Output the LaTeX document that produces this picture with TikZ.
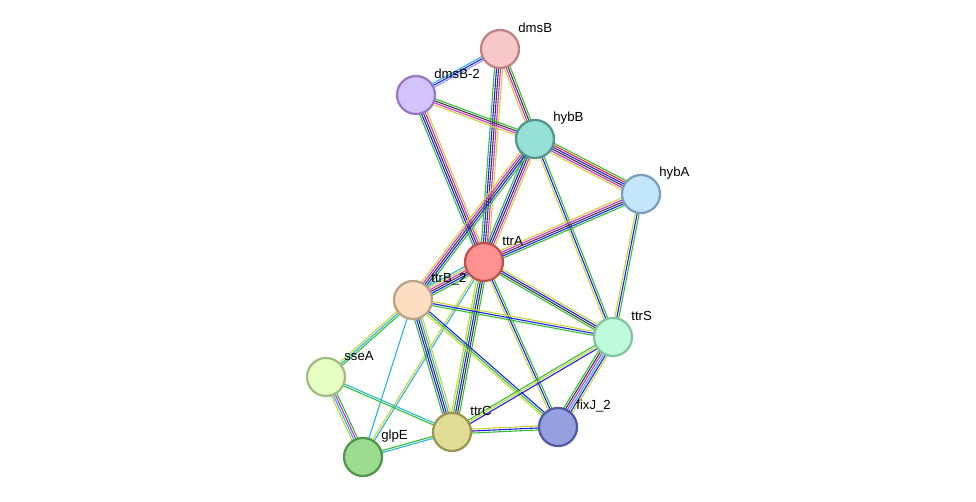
\documentclass[tikz,border=0pt]{standalone}
\usepackage{fontspec}
\setmainfont{Liberation Sans}
\usetikzlibrary{calc,backgrounds}

\definecolor{ey}{RGB}{200,212,50}
\definecolor{eg}{RGB}{50,190,50}
\definecolor{eb}{RGB}{30,30,240}
\definecolor{ek}{RGB}{60,60,60}
\definecolor{em}{RGB}{220,40,220}
\definecolor{ec}{RGB}{40,180,220}
\definecolor{er}{RGB}{240,30,30}
\definecolor{el}{RGB}{150,150,255}

% protein fills and rims
\definecolor{dmsBf}{RGB}{248,200,200}   \definecolor{dmsBd}{RGB}{190,130,130}
\definecolor{dmsBIIf}{RGB}{210,195,250} \definecolor{dmsBIId}{RGB}{150,120,200}
\definecolor{hybBf}{RGB}{150,225,215}   \definecolor{hybBd}{RGB}{80,150,140}
\definecolor{hybAf}{RGB}{195,230,250}   \definecolor{hybAd}{RGB}{120,160,190}
\definecolor{ttrAf}{RGB}{255,145,145}   \definecolor{ttrAd}{RGB}{190,80,80}
\definecolor{ttrBf}{RGB}{253,222,195}   \definecolor{ttrBd}{RGB}{190,160,130}
\definecolor{ttrSf}{RGB}{190,250,220}   \definecolor{ttrSd}{RGB}{130,195,160}
\definecolor{sseAf}{RGB}{230,255,195}   \definecolor{sseAd}{RGB}{160,190,130}
\definecolor{ttrCf}{RGB}{225,220,150}   \definecolor{ttrCd}{RGB}{155,150,80}
\definecolor{fixJf}{RGB}{150,160,225}   \definecolor{fixJd}{RGB}{80,90,160}
\definecolor{glpEf}{RGB}{155,220,145}   \definecolor{glpEd}{RGB}{80,150,70}

\tikzset{
  prot/.style={circle, minimum size=0.76cm, inner sep=0pt, line width=0.045cm, fill=#1f, draw=#1d},
  lbl/.style={anchor=west, inner sep=0pt, font=\fontsize{7.5}{8}\selectfont}
}

% multi-coloured link between two proteins
\newcommand\link[3]{%
  \gdef\nlines{0}%
  \foreach \c in {#3}{\xdef\nlines{\the\numexpr\nlines+1\relax}}%
  \foreach \c [count=\i] in {#3}{%
    \draw [\c, line width=0.022cm] let \p1=($(#2)-(#1)$), \n1={atan2(\y1,\x1)+90},
      \n2={(\i-(\nlines+1)/2)*0.04} in
      ($(#1)+(\n1:\n2 cm)$) -- ($(#2)+(\n1:\n2 cm)$);
  }}

\begin{document}
\begin{tikzpicture}[x=0.02cm, y=-0.02cm]
\useasboundingbox (0,0) rectangle (976,502);

% Proteins
\node [prot=dmsB] (dmsB) at (500,49) {};
\node [prot=dmsBII] (dmsB2) at (416,95) {};
\node [prot=hybB] (hybB) at (535,139) {};
\node [prot=hybA] (hybA) at (641,194) {};
\node [prot=ttrA] (ttrA) at (484,262) {};
\node [prot=ttrB] (ttrB2) at (413,300) {};
\node [prot=ttrS] (ttrS) at (613,337) {};
\node [prot=sseA] (sseA) at (326,377) {};
\node [prot=ttrC] (ttrC) at (452,432) {};
\node [prot=fixJ] (fixJ) at (558,427) {};
\node [prot=glpE] (glpE) at (363,457) {};

% Labels
\node [lbl] (dmsBl) at ($(dmsB)+(18,-21)$) {dmsB};
\node [lbl] (dmsB2l) at ($(dmsB2)+(18,-21)$) {dmsB-2};
\node [lbl] (hybBl) at ($(hybB)+(18,-21)$) {hybB};
\node [lbl] (hybAl) at ($(hybA)+(18,-21)$) {hybA};
\node [lbl] (ttrAl) at ($(ttrA)+(18,-21)$) {ttrA};
\node [lbl] (ttrB2l) at ($(ttrB2)+(18,-21)$) {ttrB\_2};
\node [lbl] (ttrSl) at ($(ttrS)+(18,-21)$) {ttrS};
\node [lbl] (sseAl) at ($(sseA)+(18,-21)$) {sseA};
\node [lbl] (ttrCl) at ($(ttrC)+(18,-21)$) {ttrC};
\node [lbl] (fixJl) at ($(fixJ)+(18,-21)$) {fixJ\_2};
\node [lbl] (glpEl) at ($(glpE)+(18,-21)$) {glpE};

% Links
\begin{scope}[on background layer]
\link{dmsB}{dmsB2}{ec,eb,el}
\link{dmsB}{hybB}{ey,em,ek,eg}
\link{dmsB}{ttrA}{eg,eb,ek,em,ey}
\link{dmsB2}{hybB}{ey,em,ek,eg}
\link{dmsB2}{ttrA}{eg,eb,ek,em,ey}
\link{hybB}{hybA}{ey,em,ek,eb,er,eg}
\link{hybB}{ttrA}{eg,eb,ek,em,ey}
\link{hybB}{ttrB2}{ey,em,ek,eb,eg}
\link{hybB}{ttrS}{ey,eb,eg}
\link{hybA}{ttrA}{ey,em,ek,eb,eg}
\link{hybA}{ttrS}{ey,eb,eg}
\link{ttrA}{ttrB2}{ec,ey,em,ek,eb,eg}
\link{ttrA}{ttrS}{eg,ek,eb,ey}
\link{ttrA}{ttrC}{ey,eg,eb,ek,eg}
\link{ttrA}{fixJ}{ey,eb,eg}
\link{ttrA}{glpE}{ey,ec}
\link{ttrB2}{ttrS}{eg,eb,ey}
\link{ttrB2}{ttrC}{eg,eb,ek,ec,ey}
\link{ttrB2}{fixJ}{ey,eg,eb}
\link{ttrB2}{sseA}{ey,ec,eg}
\link{ttrB2}{glpE}{ec}
\link{ttrS}{ttrC}{eg,ey,eb}
\link{ttrS}{fixJ}{eg,ek,em,ec,eb,ey}
\link{ttrC}{fixJ}{eg,eb,ey}
\link{ttrC}{sseA}{ec,eg}
\link{ttrC}{glpE}{eg,ec}
\link{sseA}{glpE}{ey,ec,em,eg}
\end{scope}

\end{tikzpicture}
\end{document}
